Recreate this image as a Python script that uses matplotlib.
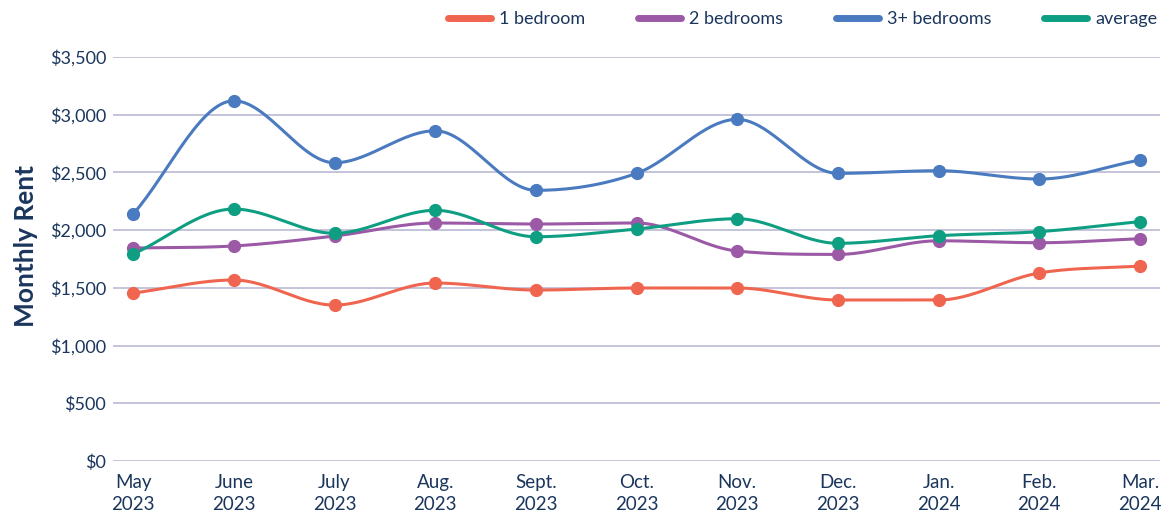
import numpy as np
import matplotlib.pyplot as plt
from matplotlib.lines import Line2D
from matplotlib.ticker import FuncFormatter

plt.rcParams['font.family'] = ['Lato', 'DejaVu Sans']

months = ['May\n2023', 'June\n2023', 'July\n2023', 'Aug.\n2023', 'Sept.\n2023', 'Oct.\n2023',
          'Nov.\n2023', 'Dec.\n2023', 'Jan.\n2024', 'Feb.\n2024', 'Mar.\n2024']
one_bed = [1455, 1568, 1351, 1542, 1481, 1499, 1499, 1395, 1395, 1629, 1689]
two_bed = [1845, 1863, 1949, 2062, 2053, 2062, 1819, 1790, 1908, 1891, 1926]
three_bed = [2140, 3121, 2584, 2861, 2345, 2492, 2960, 2492, 2515, 2443, 2608]
average = [1793, 2183, 1973, 2172, 1943, 2010, 2099, 1886, 1952, 1987, 2074]

series = [('1 bedroom', one_bed, '#F0654F'),
          ('2 bedrooms', two_bed, '#9B59A6'),
          ('3+ bedrooms', three_bed, '#4A7ABF'),
          ('average', average, '#0E9E82')]

TEXT = '#1B365D'


def monotone(x, y, n=30):
    # Fritsch-Carlson monotone cubic, like chart.js 'monotone'
    x = np.asarray(x, float)
    y = np.asarray(y, float)
    h = np.diff(x)
    d = np.diff(y) / h
    m = np.zeros_like(y)
    m[0], m[-1] = d[0], d[-1]
    for i in range(1, len(y) - 1):
        if d[i - 1] * d[i] <= 0:
            m[i] = 0
        else:
            m[i] = (d[i - 1] + d[i]) / 2
    for i in range(len(d)):
        if d[i] == 0:
            m[i] = m[i + 1] = 0
            continue
        a, b = m[i] / d[i], m[i + 1] / d[i]
        s = a * a + b * b
        if s > 9:
            t = 3 / np.sqrt(s)
            m[i], m[i + 1] = t * a * d[i], t * b * d[i]
    xs, ys = [], []
    for i in range(len(d)):
        t = np.linspace(0, 1, n, endpoint=False)
        h00 = 2 * t**3 - 3 * t**2 + 1
        h10 = t**3 - 2 * t**2 + t
        h01 = -2 * t**3 + 3 * t**2
        h11 = t**3 - t**2
        xs.append(x[i] + t * h[i])
        ys.append(h00 * y[i] + h10 * h[i] * m[i] + h01 * y[i + 1] + h11 * h[i] * m[i + 1])
    xs.append([x[-1]])
    ys.append([y[-1]])
    return np.concatenate(xs), np.concatenate(ys)


fig = plt.figure(figsize=(11.69, 5.17), dpi=100)
ax = fig.add_axes([0.0967, 0.1083, 0.8956, 0.7814])

x = np.arange(len(months))
handles = []
for name, vals, color in series:
    sx, sy = monotone(x, vals)
    ax.plot(sx, sy, color=color, lw=2.2, solid_capstyle='round', zorder=3)
    ax.plot(x, vals, 'o', color=color, markersize=8.5, zorder=4)
    handles.append(Line2D([], [], color=color, lw=5, solid_capstyle='round', label=name))

ax.set_xlim(-0.2, 10.2)
ax.set_ylim(0, 3500)
ax.set_yticks(np.arange(0, 3501, 500))
ax.yaxis.set_major_formatter(FuncFormatter(lambda v, p: f'${v:,.0f}'))
ax.set_xticks(x)
ax.set_xticklabels(months)
for lbl in ax.get_xticklabels():
    lbl.set_linespacing(1.4)
ax.grid(axis='y', color='#B3B3CF', lw=1.1)
ax.set_axisbelow(True)
for s in ax.spines.values():
    s.set_visible(False)
ax.tick_params(axis='y', length=0, pad=5, labelsize=13, labelcolor=TEXT)
ax.tick_params(axis='x', length=0, pad=9, labelsize=13.5, labelcolor=TEXT)

fig.text(0.022, 0.525, 'Monthly Rent', rotation=90, ha='center', va='center',
         fontsize=19, fontweight='bold', color=TEXT)

fig.legend(handles=handles, loc='center right', bbox_to_anchor=(1.004, 0.963), ncol=4,
           frameon=False, fontsize=13, handlelength=2.4, handletextpad=0.45,
           columnspacing=2.9, labelcolor=TEXT)

fig.savefig('out.png', dpi=100)
